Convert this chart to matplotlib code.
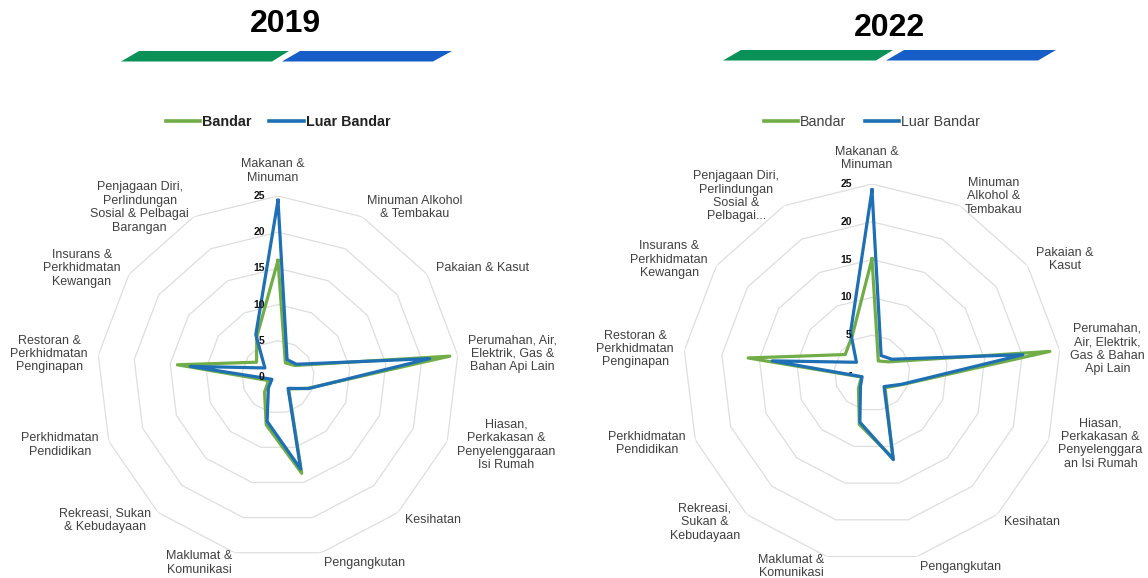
import numpy as np
import matplotlib
matplotlib.use("Agg")
import matplotlib.pyplot as plt
from matplotlib.patches import Polygon

plt.rcParams['font.family'] = ['Liberation Sans', 'DejaVu Sans']

# categories, clockwise from the top
labels_2019 = ["Makanan &\nMinuman", "Minuman Alkohol\n& Tembakau", "Pakaian & Kasut",
               "Perumahan, Air,\nElektrik, Gas &\nBahan Api Lain",
               "Hiasan,\nPerkakasan &\nPenyelenggaraan\nIsi Rumah",
               "Kesihatan", "Pengangkutan", "Maklumat &\nKomunikasi",
               "Rekreasi, Sukan\n& Kebudayaan", "Perkhidmatan\nPendidikan",
               "Restoran &\nPerkhidmatan\nPenginapan", "Insurans &\nPerkhidmatan\nKewangan",
               "Penjagaan Diri,\nPerlindungan\nSosial & Pelbagai\nBarangan"]
labels_2022 = ["Makanan &\nMinuman", "Minuman\nAlkohol &\nTembakau", "Pakaian &\nKasut",
               "Perumahan,\nAir, Elektrik,\nGas & Bahan\nApi Lain",
               "Hiasan,\nPerkakasan &\nPenyelenggara\nan Isi Rumah",
               "Kesihatan", "Pengangkutan", "Maklumat &\nKomunikasi",
               "Rekreasi,\nSukan &\nKebudayaan", "Perkhidmatan\nPendidikan",
               "Restoran &\nPerkhidmatan\nPenginapan", "Insurans &\nPerkhidmatan\nKewangan",
               "Penjagaan Diri,\nPerlindungan\nSosial &\nPelbagai..."]

# share of expenditure (%)
bandar_2019 = [16.1, 2.2, 2.8, 23.9, 4.4, 2.2, 13.7, 6.8, 2.8, 1.4, 14.0, 3.6, 6.3]
luar_2019 = [24.4, 2.7, 3.1, 21.1, 4.5, 2.1, 13.1, 6.3, 2.0, 0.9, 12.2, 2.2, 6.6]
bandar_2022 = [15.1, 1.8, 2.6, 23.7, 4.3, 2.6, 11.6, 7.0, 2.7, 1.5, 16.5, 4.3, 5.6]
luar_2022 = [24.2, 2.6, 3.2, 20.1, 4.2, 2.4, 11.8, 6.7, 2.3, 1.4, 13.3, 2.5, 6.1]

ticks = [0, 5, 10, 15, 20, 25]
tick_labels_2019 = ["0", "5", "10", "15", "20", "25"]
tick_labels_2022 = ["-", "5", "10", "15", "20", "25"]

GREEN = "#70ad47"
BLUE = "#1f6fb4"
W, H = 1148, 578

fig = plt.figure(figsize=(W / 100, H / 100), dpi=100)


def radar(cx, cy, R, labels, bandar, luar, tick_labels, tick_dx, bold_legend):
    ax = fig.add_axes([(cx - R) / W, (H - cy - R) / H, 2 * R / W, 2 * R / H],
                      projection='polar')
    ax.set_theta_zero_location('N')
    ax.set_theta_direction(-1)
    ax.set_ylim(0, 25)
    ax.set_xticks([])
    ax.set_yticks([])
    ax.grid(False)
    ax.spines['polar'].set_visible(False)
    ax.patch.set_alpha(0)

    n = len(labels)
    ang = np.arange(n) * 2 * np.pi / n
    ang_c = np.append(ang, ang[0])

    for v in ticks[1:]:
        ax.plot(ang_c, [v] * (n + 1), color="#dedede", lw=0.9, zorder=1)

    ax.plot(ang_c, bandar + bandar[:1], color=GREEN, lw=2.3, label="Bandar", zorder=3)
    ax.plot(ang_c, luar + luar[:1], color=BLUE, lw=2.3, label="Luar Bandar", zorder=4)

    for v, t in zip(ticks, tick_labels):
        ax.annotate(t, xy=(0, v), xytext=(tick_dx, 0), textcoords='offset points',
                    ha='right', va='center', fontsize=7.5, fontweight='bold',
                    color='#111111', zorder=6, annotation_clip=False)

    pad = 7.5
    for a, lab in zip(ang, labels):
        s, c = np.sin(a), np.cos(a)
        ha = 'left' if s > 0.15 else ('right' if s < -0.15 else 'center')
        va = 'center'
        off = (pad * s, pad * c)
        if c > 0.95:
            va = 'bottom'
            off = (-4, 9)
        ax.annotate(lab, xy=(a, 25), xytext=off, textcoords='offset points',
                    ha=ha, va=va, fontsize=9, color='#404040', linespacing=1.15,
                    multialignment='center', annotation_clip=False)

    leg = ax.legend(loc='center', bbox_to_anchor=((cx) / W, 1 - 122.5 / H),
                    bbox_transform=fig.transFigure, ncol=2, frameon=False,
                    handlelength=2.4, handletextpad=0.15, columnspacing=1.25,
                    prop={'size': 10.3, 'weight': 'bold' if bold_legend else 'normal'})
    for t in leg.get_texts():
        t.set_color('#222222' if bold_legend else '#404040')
    for h in leg.get_lines():
        h.set_linewidth(2.6)
    return ax


radar(278, 377, 181, labels_2019, bandar_2019, luar_2019, tick_labels_2019, -9.5, True)
radar(872, 373, 189, labels_2022, bandar_2022, luar_2022, tick_labels_2022, -14.5, False)

# titles and decorative bars
fig.text(285 / W, 1 - 24.5 / H, "2019", ha='center', va='center', fontsize=23,
         fontweight='bold', color='black')
fig.text(889 / W, 1 - 28 / H, "2022", ha='center', va='center', fontsize=23,
         fontweight='bold', color='black')


def bar(xs_bottom, xs_top, y_top, y_bot, color):
    pts = [(xs_bottom[0], y_bot), (xs_bottom[1], y_bot), (xs_top[1], y_top), (xs_top[0], y_top)]
    pts = [(x / W, 1 - y / H) for x, y in pts]
    fig.patches.append(Polygon(pts, closed=True, transform=fig.transFigure,
                               facecolor=color, edgecolor='none'))


bar((121, 272), (139, 289), 51, 61.5, "#099158")
bar((282, 433), (300, 452), 51, 61.5, "#175dc8")
bar((723, 876), (741, 893), 50, 60.5, "#099158")
bar((886, 1038), (904, 1056), 50, 60.5, "#175dc8")

fig.savefig("out.png", dpi=100, facecolor='white')
